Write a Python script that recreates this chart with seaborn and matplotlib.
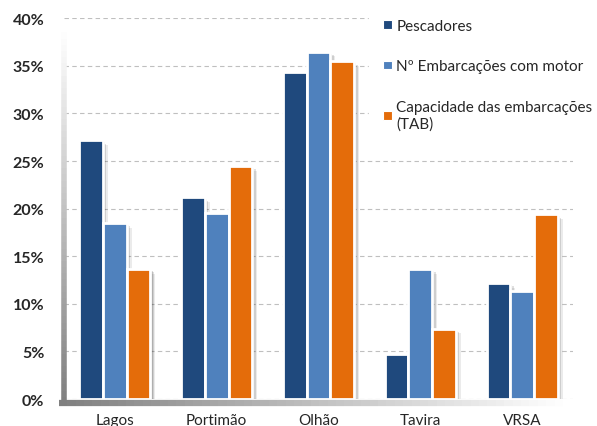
import numpy as np
import pandas as pd
import matplotlib.pyplot as plt
import matplotlib.patheffects as pe
from matplotlib.collections import LineCollection
import seaborn as sns
from matplotlib.ticker import FuncFormatter

# ---------- DATA ----------
concelhos = ["Lagos", "Portimão", "Olhão", "Tavira", "VRSA"]
pescadores = [27.2, 21.2, 34.4, 4.7, 12.2]
embarcacoes_motor = [18.5, 19.5, 36.5, 13.7, 11.3]
capacidade_tab = [13.7, 24.5, 35.5, 7.4, 19.4]

series = ["Pescadores", "Nº Embarcações com motor", "Capacidade das embarcações\n(TAB)"]
cores = ["#1F497D", "#4F81BD", "#E46C0A"]

df = pd.DataFrame({
    "Concelho": concelhos * 3,
    "Serie": [series[0]] * 5 + [series[1]] * 5 + [series[2]] * 5,
    "Valor": pescadores + embarcacoes_motor + capacidade_tab,
})

# ---------- PLOT ----------
sns.set_style("white")
plt.rcParams["font.family"] = ["Lato", "DejaVu Sans"]

fig = plt.figure(figsize=(5.97, 4.27), dpi=100)
ax = fig.add_axes([0.107, 0.063, 0.853, 0.892])

sns.barplot(data=df, x="Concelho", y="Valor", hue="Serie", palette=cores,
            saturation=1, width=0.70, edgecolor="white", linewidth=2,
            ax=ax, zorder=3)

# soft shadow around the bars
shadow = [pe.SimplePatchShadow(offset=(o, -o), shadow_rgbFace="black", alpha=a)
          for o, a in [(3.5, 0.08), (2.5, 0.12), (1.5, 0.15)]]
for bar in ax.containers:
    for p in bar:
        p.set_path_effects(shadow + [pe.Normal()])

ax.set_xlim(-0.5, 4.5)
ax.set_ylim(0, 40)
ax.set_yticks(range(0, 41, 5))
ax.yaxis.set_major_formatter(FuncFormatter(lambda v, _: f"{v:.0f}%"))
ax.grid(axis="y", linestyle=(0, (4, 3)), color="#BFBFBF", linewidth=0.8, zorder=0)
ax.set_xlabel("")
ax.set_ylabel("")

for lbl in ax.get_yticklabels():
    lbl.set_fontweight("bold")
    lbl.set_fontsize(11.5)
ax.tick_params(axis="x", labelsize=11, pad=10, length=0)
ax.tick_params(axis="y", pad=14, length=0)

for side in ["top", "right", "left", "bottom"]:
    ax.spines[side].set_visible(False)

# gradient axis lines (dark grey fading to white)
n = 60
ys = np.linspace(-0.4, 38.5, n + 1)
segs = [[(-0.5, ys[i]), (-0.5, ys[i + 1])] for i in range(n)]
cols = [plt.cm.gray(0.5 + 0.5 * i / n) for i in range(n)]
ax.add_collection(LineCollection(segs, colors=cols, linewidths=4,
                                 clip_on=False, zorder=4))
xs = np.linspace(-0.55, 4.4, n + 1)
segs = [[(xs[i], -0.4), (xs[i + 1], -0.4)] for i in range(n)]
ax.add_collection(LineCollection(segs, colors=cols, linewidths=4.5,
                                 clip_on=False, zorder=4))

leg = ax.legend(loc="upper right", bbox_to_anchor=(1.08, 1.055), frameon=True,
                facecolor="white", edgecolor="white", framealpha=1,
                fontsize=11, handlelength=0.6, handleheight=0.5,
                handletextpad=0.3, labelspacing=1.75, borderpad=0.9)
for h in leg.legend_handles:
    h.set_linewidth(0.8)
leg.set_zorder(5)

plt.savefig("out.png", dpi=100)
